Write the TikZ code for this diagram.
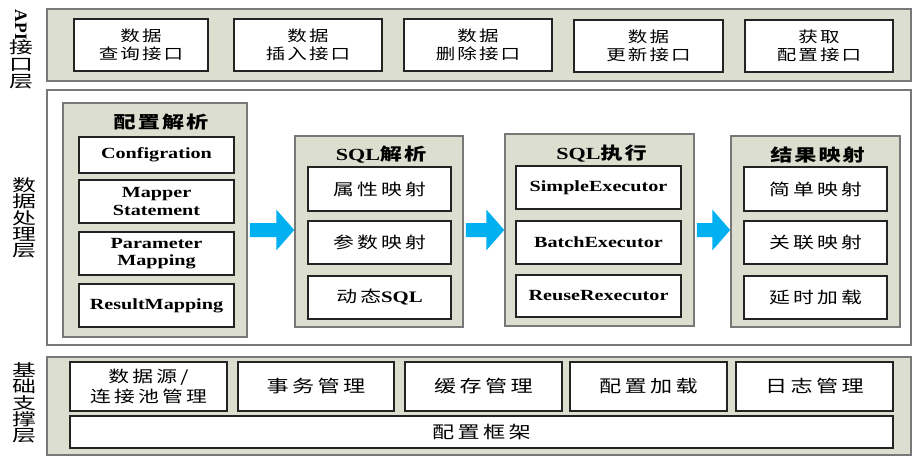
\documentclass[tikz,border=0pt]{standalone}
\usepackage{fontspec}
\setmainfont{Liberation Serif}[FakeStretch=1.3]
\newfontfamily\plainserif{Liberation Serif}
\newfontfamily\latbold{Liberation Serif Bold}[FakeStretch=1.3]
\newfontfamily\cjk{Noto Sans CJK SC}[FakeStretch=1.3]
\newfontfamily\cjkW{Noto Sans CJK SC}[FakeStretch=1.45]
\newfontfamily\cjkA{Noto Sans CJK SC}[FakeStretch=1.3,LetterSpace=14]
\newfontfamily\cjkB{Noto Sans CJK SC}[FakeStretch=1.3,LetterSpace=20]
\newfontfamily\cjkC{Noto Sans CJK SC}[FakeStretch=1.3,LetterSpace=20]
\newfontfamily\cjkT{Noto Sans CJK SC}[FakeStretch=1.3,LetterSpace=12]
\definecolor{sage}{RGB}{220,223,207}
\definecolor{edgegray}{RGB}{120,120,120}
\definecolor{boxedge}{RGB}{35,35,35}
\definecolor{arrowblue}{RGB}{0,176,240}
\tikzset{
  layer/.style={draw=edgegray, line width=1.5pt, fill=sage, inner sep=0pt},
  whitelayer/.style={draw=edgegray, line width=1.5pt, fill=white, inner sep=0pt},
  group/.style={draw=edgegray, line width=1.5pt, fill=sage, inner sep=0pt},
  box/.style={draw=boxedge, line width=1.1pt, fill=white, inner sep=0pt, align=center},
  apibox/.style={box, minimum height=52pt, font=\fontsize{15}{18.5}\selectfont\cjkA},
  innerbox/.style={box, font=\fontsize{16}{17}\selectfont\cjkB},
  latbox/.style={box, font=\fontsize{15.5}{17.5}\selectfont\bfseries},
  basebox/.style={box, font=\fontsize{17}{20}\selectfont\cjkC},
  titletext/.style={inner sep=0pt, font=\fontsize{17}{17}\selectfont\bfseries},
  sidelabel/.style={inner sep=0pt, align=center, font=\fontsize{16.5}{16.25}\selectfont\cjkW},
}
\newcommand\blockarrow[2]{%
  \path let \p1=(#1.east), \p2=(#2.west) in
    [fill=arrowblue] (\x1+2pt,-223pt) -- (\x2-18pt,-223pt) -- (\x2-18pt,-209.5pt)
    -- (\x2,-230pt) -- (\x2-18pt,-250.5pt) -- (\x2-18pt,-237pt) -- (\x1+2pt,-237pt) -- cycle;}
\usetikzlibrary{calc}
\begin{document}
\begin{tikzpicture}[x=1pt,y=-1pt]
\useasboundingbox[fill=white] (0,0) rectangle (915,458);

% ---------- layers ----------
\node[layer, minimum width=864pt, minimum height=72pt] (api) at (479,45) {};
\node[whitelayer, minimum width=864pt, minimum height=255pt] (proc) at (479,217.5) {};
\node[layer, minimum width=864pt, minimum height=98pt] (base) at (479,406) {};

% ---------- side labels ----------
\node[inner sep=0pt, rotate=-90, font=\fontsize{17.5}{17.5}\selectfont\plainserif\bfseries] (lapi) at (21,25) {API};
\node[sidelabel, font=\fontsize{16.5}{17}\selectfont\cjkW] (lapi2) at (21,64) {接\\口\\层};
\node[sidelabel] (lproc) at (24,218) {数\\据\\处\\理\\层};
\node[sidelabel] (lbase) at (24,403) {基\\础\\支\\撑\\层};

% ---------- API boxes ----------
\node[apibox, minimum width=134pt] (a1) at (141,45) {数据\\查询接口};
\node[apibox, minimum width=148pt] (a2) at (308,45) {数据\\插入接口};
\node[apibox, minimum width=148pt] (a3) at (478,45) {数据\\删除接口};
\node[apibox, minimum width=149pt] (a4) at (648.5,46) {数据\\更新接口};
\node[apibox, minimum width=148pt] (a5) at (819,46) {获取\\配置接口};

% ---------- group 1 ----------
\node[group, minimum width=184pt, minimum height=234pt] (g1) at (155,220) {};
\node[titletext] (t1) at (161,122.5) {\cjkT 配置解析};
\node[latbox, minimum width=155pt, minimum height=36pt] (c1) at (156.5,155) {Configration};
\node[latbox, minimum width=155pt, minimum height=43pt] (c2) at (156.5,201.5) {Mapper\\Statement};
\node[latbox, minimum width=155pt, minimum height=43pt] (c3) at (156.5,253.5) {Parameter\\Mapping};
\node[latbox, minimum width=155pt, minimum height=43pt] (c4) at (156.5,305.5) {ResultMapping};

% ---------- group 2 ----------
\node[group, minimum width=168pt, minimum height=191pt] (g2) at (379,231.5) {};
\node[titletext] (t2) at (381,155) {{\latbold SQL}{\cjkT 解析}};
\node[innerbox, minimum width=143pt, minimum height=44pt] (s1) at (379.5,189) {属性映射};
\node[innerbox, minimum width=143pt, minimum height=43pt] (s2) at (379.5,242.5) {参数映射};
\node[innerbox, minimum width=143pt, minimum height=43pt] (s3) at (379.5,297.5) {动态{\latbold SQL}};

% ---------- group 3 ----------
\node[group, minimum width=189pt, minimum height=192pt] (g3) at (599.5,230) {};
\node[titletext] (t3) at (601.5,153.5) {{\latbold SQL}{\cjkT 执行}};
\node[latbox, minimum width=165pt, minimum height=43pt] (e1) at (598.5,187.5) {SimpleExecutor};
\node[latbox, minimum width=165pt, minimum height=43pt] (e2) at (598.5,242.5) {BatchExecutor};
\node[latbox, minimum width=165pt, minimum height=42pt] (e3) at (598.5,296) {ReuseRexecutor};

% ---------- group 4 ----------
\node[group, minimum width=169pt, minimum height=191pt] (g4) at (815.5,231.5) {};
\node[titletext] (t4) at (817.5,155) {\cjkT 结果映射};
\node[innerbox, minimum width=143pt, minimum height=44pt] (r1) at (815.5,189) {简单映射};
\node[innerbox, minimum width=143pt, minimum height=43pt] (r2) at (815.5,242.5) {关联映射};
\node[innerbox, minimum width=143pt, minimum height=43pt] (r3) at (815.5,297.5) {延时加载};

% ---------- block arrows ----------
\blockarrow{g1}{g2}
\blockarrow{g2}{g3}
\blockarrow{g3}{g4}

% ---------- base boxes ----------
\node[basebox, minimum width=157pt, minimum height=49pt, font=\fontsize{16}{20}\selectfont\cjkC] (b1) at (148.5,386.5) {数据源/\\连接池管理};
\node[basebox, minimum width=156pt, minimum height=49pt] (b2) at (316,386.5) {事务管理};
\node[basebox, minimum width=157pt, minimum height=49pt] (b3) at (483.5,386.5) {缓存管理};
\node[basebox, minimum width=157pt, minimum height=49pt] (b4) at (648.5,386.5) {配置加载};
\node[basebox, minimum width=157pt, minimum height=49pt] (b5) at (814.5,386.5) {日志管理};
\node[basebox, minimum width=823pt, minimum height=32pt] (b6) at (481.5,432) {配置框架};
\end{tikzpicture}
\end{document}
